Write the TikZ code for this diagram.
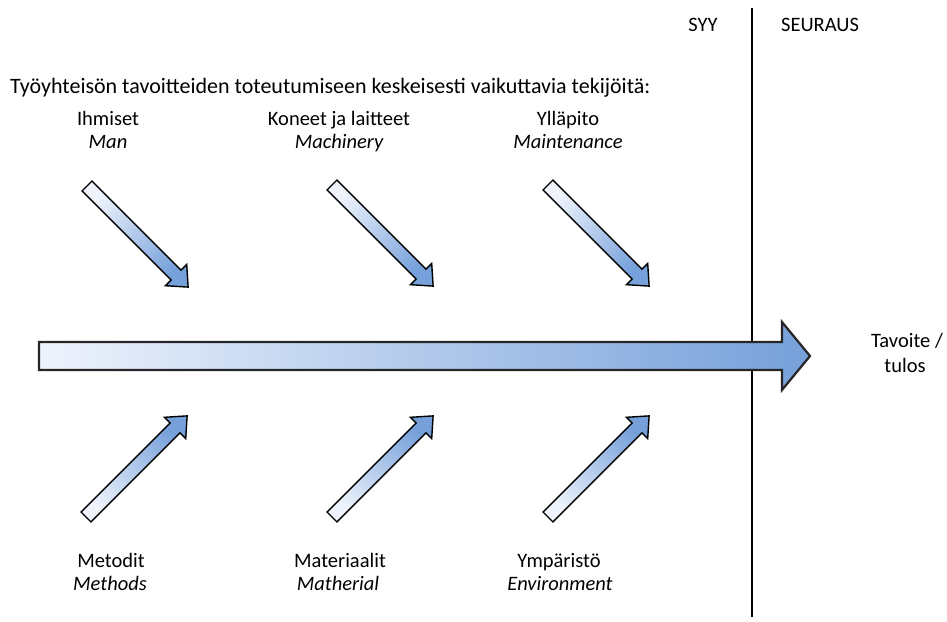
\documentclass[tikz,border=0pt]{standalone}
\usepackage{fontspec}
\setmainfont{Carlito}
\definecolor{lightend}{RGB}{238,243,252}
\definecolor{blueend}{RGB}{118,160,218}
\tikzset{
  lbl/.style={inner sep=0pt, align=center, font=\fontsize{20.5}{24}\selectfont},
  titlelbl/.style={inner sep=0pt, font=\fontsize{22}{26}\selectfont},
  downarrow/.style={draw=black, line width=1.4pt, line join=miter, top color=lightend, bottom color=blueend, shading angle=45},
  uparrow/.style={draw=black, line width=1.4pt, line join=miter, top color=blueend, bottom color=lightend, shading angle=-45},
  bigarrow/.style={draw=black!85, line width=2.2pt, line join=miter, left color=lightend, right color=blueend},
  divider/.style={draw=black, line width=1.8pt}
}
\newcommand{\blockarrow}[3]{%
  \begin{scope}[shift={#1}, rotate=#2]
    \path[#3] (0,-7) -- (126,-7) -- (126,-15) -- (143,0) -- (126,15) -- (126,7) -- (0,7) -- cycle;
  \end{scope}}
\begin{document}
\begin{tikzpicture}[x=1pt,y=1pt]
\useasboundingbox[fill=white] (0,0) rectangle (947,621);
% divider line
\coordinate (dtop) at (752,613);
\coordinate (dbot) at (752,4);
\draw[divider] (dtop) -- (dbot);
% main arrow
\path[bigarrow] (39,251) -- (782,251) -- (782,231) -- (810,265) -- (782,299) -- (782,279) -- (39,279) -- cycle;
% top arrows
\blockarrow{(87,435)}{-45}{downarrow}
\blockarrow{(332,436)}{-45}{downarrow}
\blockarrow{(548,436)}{-45}{downarrow}
% bottom arrows
\blockarrow{(86,104)}{45}{uparrow}
\blockarrow{(332,104)}{45}{uparrow}
\blockarrow{(548,104)}{45}{uparrow}
% texts
\node[lbl, anchor=base] (syy) at (703,589) {SYY};
\node[lbl, anchor=base] (seuraus) at (820,589) {SEURAUS};
\node[titlelbl, anchor=base west] (title) at (10,527) {Työyhteisön tavoitteiden toteutumiseen keskeisesti vaikuttavia tekijöitä:};
\node[lbl, anchor=base] (ihm) at (108,495) {Ihmiset};
\node[lbl, anchor=base] (man) at (108,472) {\itshape Man};
\node[lbl, anchor=base] (kon) at (339,495) {Koneet ja laitteet};
\node[lbl, anchor=base] (mach) at (339,472) {\itshape Machinery};
\node[lbl, anchor=base] (yll) at (568,495) {Ylläpito};
\node[lbl, anchor=base] (maint) at (568,472) {\itshape Maintenance};
\node[lbl, anchor=base] (met) at (111,54) {Metodit};
\node[lbl, anchor=base] (meth) at (110,31) {\itshape Methods};
\node[lbl, anchor=base] (mat) at (340,54) {Materiaalit};
\node[lbl, anchor=base] (math) at (338,31) {\itshape Matherial};
\node[lbl, anchor=base] (ymp) at (559,54) {Ympäristö};
\node[lbl, anchor=base] (env) at (560,31) {\itshape Environment};
\node[lbl, anchor=base] (tav) at (907,273) {Tavoite /};
\node[lbl, anchor=base] (tul) at (905,248) {tulos};
\end{tikzpicture}
\end{document}
